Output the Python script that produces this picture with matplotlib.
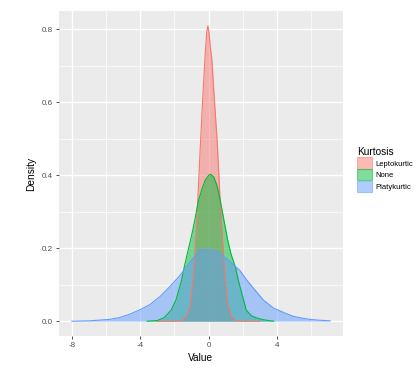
import numpy as np
import matplotlib
matplotlib.use("Agg")
import matplotlib.pyplot as plt
from matplotlib.patches import Patch

plt.rcParams["font.family"] = ["Liberation Sans", "DejaVu Sans"]

# density curves
groups = ["Leptokurtic", "None", "Platykurtic"]
colors = ["#F8766D", "#00BA38", "#619CFF"]

lepto_x = [-3.0, -2.0, -1.6, -1.3, -1.1, -0.9, -0.75, -0.6, -0.5, -0.35, -0.22, -0.12, -0.05,
           0.02, 0.1, 0.18, 0.33, 0.5, 0.65, 0.8, 0.95, 1.15, 1.35, 1.6, 2.0, 3.0]
lepto_y = [0.0, 0.0, 0.002, 0.012, 0.04, 0.12, 0.23, 0.37, 0.47, 0.61, 0.72, 0.79, 0.81,
           0.79, 0.75, 0.72, 0.61, 0.49, 0.35, 0.23, 0.12, 0.04, 0.012, 0.002, 0.0, 0.0]

none_x = [-3.6, -3.0, -2.6, -2.2, -1.9, -1.6, -1.4, -1.2, -1.0, -0.8, -0.6, -0.4, -0.2, 0.0,
          0.12, 0.3, 0.5, 0.7, 0.9, 1.1, 1.3, 1.55, 1.8, 2.0, 2.2, 2.5, 2.8, 3.2, 3.8]
none_y = [0.0, 0.002, 0.01, 0.03, 0.06, 0.11, 0.155, 0.195, 0.235, 0.28, 0.33, 0.362, 0.387, 0.40,
          0.403, 0.395, 0.37, 0.325, 0.275, 0.225, 0.185, 0.15, 0.1, 0.065, 0.03, 0.015, 0.009, 0.004, 0.0]

platy_x = [-8.0, -7.0, -6.4, -5.8, -5.22, -4.63, -4.04, -3.46, -2.86, -2.27, -1.67, -1.08, -0.51,
           0.18, 0.66, 1.2, 1.83, 2.22, 2.7, 3.2, 3.79, 4.38, 4.97, 5.75, 6.4, 7.1]
platy_y = [0.0, 0.001, 0.003, 0.005, 0.010, 0.019, 0.031, 0.045, 0.067, 0.095, 0.126, 0.163, 0.196,
           0.196, 0.186, 0.165, 0.139, 0.113, 0.086, 0.058, 0.036, 0.024, 0.013, 0.006, 0.003, 0.001]

series = [(lepto_x, lepto_y), (none_x, none_y), (platy_x, platy_y)]

x_ticks = [-8, -4, 0, 4]
y_ticks = [0.0, 0.2, 0.4, 0.6, 0.8]

fig = plt.figure(figsize=(4.19, 3.75), dpi=100)
ax = fig.add_axes([59 / 419, 1 - 336 / 375, (343 - 59) / 419, (336 - 11) / 375])
ax.set_facecolor("#EBEBEB")
for s in ax.spines.values():
    s.set_visible(False)

for (xs, ys), c in zip(series, colors):
    ax.fill_between(xs, 0, ys, color=c, alpha=0.5, linewidth=0)
    ax.plot(xs, ys, color=c, linewidth=0.8)

ax.set_xlim(-8.755, 7.855)
ax.set_ylim(-0.0405, 0.8505)
ax.set_xticks(x_ticks)
ax.set_xticklabels([str(v) for v in x_ticks])
ax.set_yticks(y_ticks)
ax.set_yticklabels([f"{v:.1f}" for v in y_ticks])
ax.set_xticks([-6, -2, 2, 6], minor=True)
ax.set_yticks([0.1, 0.3, 0.5, 0.7], minor=True)
ax.grid(True, which="major", color="white", linewidth=1.0)
ax.grid(True, which="minor", color="white", linewidth=0.5)
ax.set_axisbelow(True)
ax.tick_params(which="major", length=2.5, width=0.6, color="#333333",
               labelsize=5.8, labelcolor="#4D4D4D", pad=2)
ax.tick_params(which="minor", length=0)

ax.set_xlabel("Value", fontsize=7.3, labelpad=3)
ax.set_ylabel("Density", fontsize=7.3, labelpad=4)

handles = [Patch(facecolor=c, edgecolor=c, alpha=0.5, linewidth=0.8) for c in colors]
leg = fig.legend(handles, groups, title="Kurtosis", loc="upper left",
                 bbox_to_anchor=(354 / 419, 1 - 144 / 375), frameon=False,
                 fontsize=5.5, title_fontsize=7.3, handlelength=1.9, handleheight=1.9,
                 labelspacing=0.05, handletextpad=0.5, borderaxespad=0)
leg._legend_box.align = "left"

fig.savefig("out.png", dpi=100)
